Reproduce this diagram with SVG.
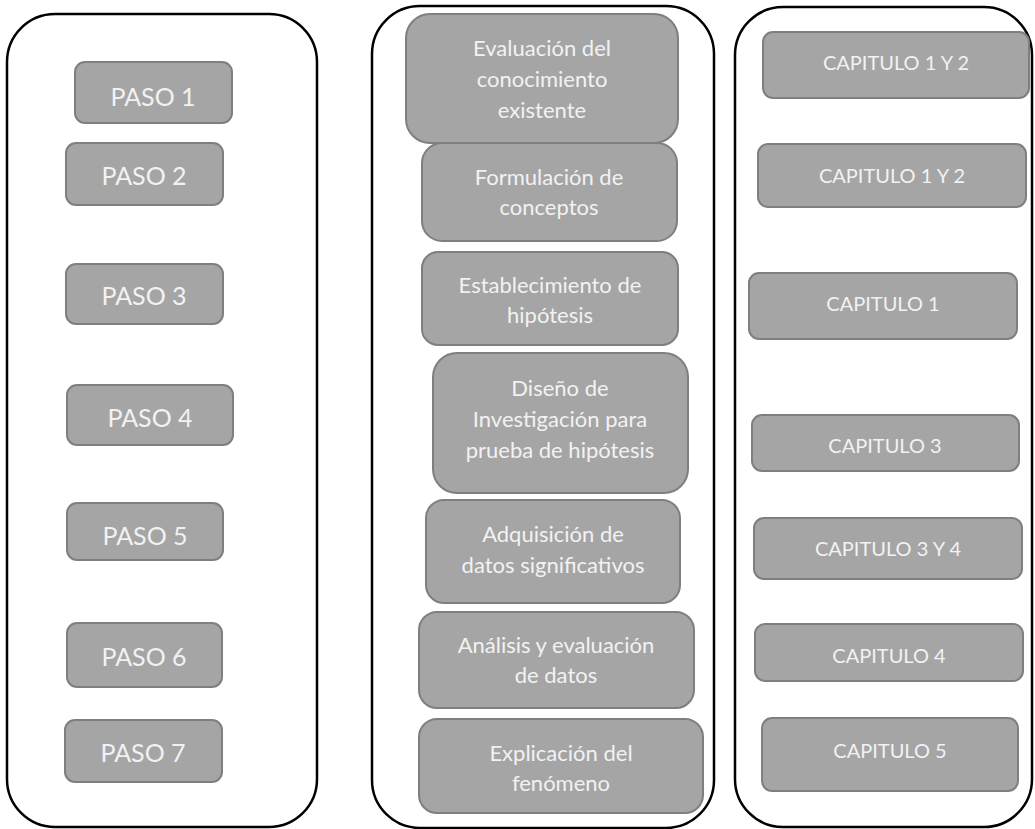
<svg xmlns="http://www.w3.org/2000/svg" width="1035" height="829" viewBox="0 0 1035 829">
  <style>
    .panel { fill: #ffffff; stroke: #000000; stroke-width: 2.5; }
    .box { fill: #a5a5a5; stroke: #7f7f7f; stroke-width: 2; }
    text { fill: #f2f2f2; font-family: Lato, "Open Sans", "Liberation Sans", sans-serif; text-anchor: middle; }
    .paso { font-size: 25px; }
    .cap { font-size: 20px; }
    .step { font-size: 22px; }
  </style>
  <rect width="1035" height="829" fill="#ffffff"/>

  <!-- column frames -->
  <g id="frames">
    <rect class="panel" x="7" y="14" width="310" height="813" rx="48" ry="48"/>
    <rect class="panel" x="372" y="6" width="342" height="822" rx="48" ry="48"/>
    <rect class="panel" x="735" y="7" width="297" height="820" rx="48" ry="48"/>
  </g>

  <!-- connectors (none drawn) -->
  <g id="connectors"></g>

  <!-- left column: steps -->
  <g id="paso1"><rect class="box" x="75" y="62" width="157" height="61" rx="10"/><text class="paso" x="153" y="106">PASO 1</text></g>
  <g id="paso2"><rect class="box" x="66" y="143" width="157" height="62" rx="10"/><text class="paso" x="144" y="185">PASO 2</text></g>
  <g id="paso3"><rect class="box" x="66" y="264" width="157" height="60" rx="10"/><text class="paso" x="144" y="305">PASO 3</text></g>
  <g id="paso4"><rect class="box" x="67" y="385" width="166" height="60" rx="10"/><text class="paso" x="150" y="427">PASO 4</text></g>
  <g id="paso5"><rect class="box" x="67" y="503" width="156" height="57" rx="10"/><text class="paso" x="145" y="545">PASO 5</text></g>
  <g id="paso6"><rect class="box" x="67" y="623" width="155" height="64" rx="10"/><text class="paso" x="144" y="666">PASO 6</text></g>
  <g id="paso7"><rect class="box" x="65" y="720" width="157" height="62" rx="10"/><text class="paso" x="143" y="762">PASO 7</text></g>

  <!-- middle column: method stages -->
  <g id="evaluacion">
    <rect class="box" x="406" y="14" width="272" height="129" rx="24"/>
    <text class="step" x="542"><tspan x="542" y="56">Evaluación del</tspan><tspan x="542" y="87">conocimiento</tspan><tspan x="542" y="118">existente</tspan></text>
  </g>
  <g id="formulacion">
    <rect class="box" x="422" y="143" width="255" height="98" rx="20"/>
    <text class="step" x="549"><tspan x="549" y="185">Formulación de</tspan><tspan x="549" y="215">conceptos</tspan></text>
  </g>
  <g id="hipotesis">
    <rect class="box" x="422" y="252" width="256" height="93" rx="16"/>
    <text class="step" x="550"><tspan x="550" y="293">Establecimiento de</tspan><tspan x="550" y="323">hipótesis</tspan></text>
  </g>
  <g id="diseno">
    <rect class="box" x="433" y="353" width="255" height="140" rx="24"/>
    <text class="step" x="560"><tspan x="560" y="396">Diseño de</tspan><tspan x="560" y="427">Investigación para</tspan><tspan x="560" y="458">prueba de hipótesis</tspan></text>
  </g>
  <g id="adquisicion">
    <rect class="box" x="426" y="500" width="254" height="103" rx="18"/>
    <text class="step" x="553"><tspan x="553" y="542">Adquisición de</tspan><tspan x="553" y="573">datos significativos</tspan></text>
  </g>
  <g id="analisis">
    <rect class="box" x="419" y="612" width="275" height="96" rx="18"/>
    <text class="step" x="556"><tspan x="556" y="653">Análisis y evaluación</tspan><tspan x="556" y="683">de datos</tspan></text>
  </g>
  <g id="explicacion">
    <rect class="box" x="419" y="719" width="284" height="94" rx="18"/>
    <text class="step" x="561"><tspan x="561" y="761">Explicación del</tspan><tspan x="561" y="791">fenómeno</tspan></text>
  </g>

  <!-- right column: chapters -->
  <g id="cap1"><rect class="box" x="763" y="32" width="266" height="66" rx="10"/><text class="cap" x="896" y="70">CAPITULO 1 Y 2</text></g>
  <g id="cap2"><rect class="box" x="758" y="144" width="268" height="63" rx="10"/><text class="cap" x="892" y="183">CAPITULO 1 Y 2</text></g>
  <g id="cap3"><rect class="box" x="749" y="273" width="268" height="66" rx="10"/><text class="cap" x="883" y="311">CAPITULO 1</text></g>
  <g id="cap4"><rect class="box" x="752" y="415" width="267" height="56" rx="10"/><text class="cap" x="885" y="453">CAPITULO 3</text></g>
  <g id="cap5"><rect class="box" x="754" y="518" width="268" height="61" rx="10"/><text class="cap" x="888" y="556">CAPITULO 3 Y 4</text></g>
  <g id="cap6"><rect class="box" x="755" y="624" width="268" height="57" rx="10"/><text class="cap" x="889" y="663">CAPITULO 4</text></g>
  <g id="cap7"><rect class="box" x="762" y="718" width="256" height="73" rx="10"/><text class="cap" x="890" y="758">CAPITULO 5</text></g>
</svg>
